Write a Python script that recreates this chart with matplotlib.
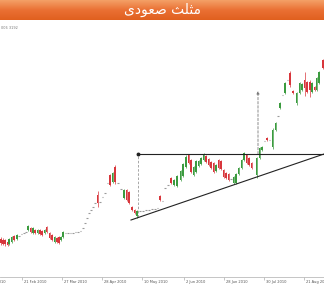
import matplotlib.pyplot as plt
import numpy as np
from matplotlib.colors import LinearSegmentedColormap

# title (Persian), pre-shaped glyphs in visual order
title = '\uFBFC\uFEA9\uFEEE\uFECC\uFEBB \uFE9A\uFEE0\uFE9C\uFEE3'
corner_text = '006 3192'

# bar position, open, high, low, close
t = [1, 3, 5, 7.5, 9, 11.5, 14, 17, 19, 21.5, 24, 26, 28, 30.5, 33, 35, 37.5, 40, 42, 44.5,
     46.5, 49.5, 52, 54.5, 57, 59, 61, 63, 65.5, 68, 70.5, 73, 75.5, 78, 80.5, 83, 85, 87,
     89, 91, 93, 95, 97.5, 100, 102.5, 105, 107.5, 110, 112.5, 115, 118, 121, 124, 126.5,
     129, 132, 134.5, 137, 140, 143, 146, 149, 152, 155, 157.5, 160, 162.5, 165, 168, 171,
     174, 177, 180.5, 183, 186, 188.5, 191, 193.5, 196, 198.5, 201, 203.5, 206, 208.5, 211,
     213.5, 216, 218.5, 221, 223.5, 226, 228.5, 231, 233.5, 236, 238.5, 241.5, 244, 246.5,
     249, 251.5, 256.5, 259.5, 262, 264.5, 267, 269.5, 272.5, 275.5, 278, 280, 282.5, 285,
     287.5, 290, 293, 296.5, 299.5, 302, 304.5, 307, 310, 312, 314.5, 316.5, 319, 323]
o = [61, 60, 60, 58, 56, 58, 64, 61, 64, 66, 67, 68, 70, 72, 67, 70, 67, 70, 69, 67,
     73, 67, 65, 58, 62, 63, 60, 63, 67, 67, 67, 67, 68, 68, 69, 72, 77, 82,
     87, 90, 93, 97, 105, 98, 103, 107, 117, 125, 118, 133, 117, 111, 102, 110,
     108, 93, 90, 84, 89, 89, 90, 90, 91, 91, 92, 104, 99, 112, 115, 122,
     115, 114, 120, 124, 133, 145, 140, 125, 128, 134, 136, 140, 144, 141, 138,
     137, 129, 140, 139, 130, 127, 126, 121, 117, 117, 126, 132, 140, 145,
     142, 137, 125, 142, 150, 159, 162, 160, 153, 170, 184, 192, 205, 207,
     220, 227, 209, 197, 207, 210, 220, 218, 218, 208, 213, 210, 217, 240]
h = [63, 62, 61, 59, 62, 64, 65, 66, 64, 66, 67, 68, 75, 73, 73, 71, 71, 71, 70, 71,
     74, 68, 66, 64, 63, 64, 64, 69, 67, 67, 67, 67, 68, 68, 69, 72, 77, 82,
     87, 90, 93, 97, 109, 98, 103, 107, 117, 126, 128, 135, 117, 111, 111, 111,
     109, 94, 91, 90, 89, 89, 90, 90, 91, 91, 92, 105, 99, 112, 115, 123,
     121, 125, 130, 137, 145, 146, 141, 134, 140, 140, 143, 147, 145, 142, 139,
     138, 136, 141, 140, 131, 128, 127, 122, 124, 127, 133, 141, 148, 146,
     143, 138, 143, 153, 154, 159, 163, 160, 172, 178, 184, 198, 205, 218,
     220, 229, 210, 208, 218, 217, 228, 219, 220, 218, 214, 223, 229, 241]
l = [55, 55, 54, 54, 55, 57, 59, 60, 64, 66, 67, 68, 69, 67, 66, 66, 66, 65, 64, 66,
     67, 61, 59, 57, 57, 56, 59, 62, 67, 67, 67, 67, 68, 68, 69, 72, 77, 82,
     87, 90, 93, 97, 93, 98, 103, 107, 117, 114, 117, 116, 117, 111, 101, 99,
     96, 89, 86, 82, 89, 89, 90, 90, 91, 91, 92, 99, 99, 112, 115, 116,
     114, 113, 119, 123, 132, 136, 127, 124, 127, 133, 135, 139, 137, 134, 131,
     127, 128, 131, 130, 122, 121, 119, 120, 116, 116, 125, 131, 139, 136,
     134, 131, 122, 141, 149, 159, 159, 160, 151, 169, 184, 191, 205, 206,
     220, 213, 206, 195, 206, 209, 204, 207, 203, 207, 209, 209, 216, 231]
c = [57, 56, 56, 55, 61, 63, 60, 65, 64, 66, 67, 68, 74, 68, 72, 67, 70, 66, 65, 70,
     68, 62, 60, 63, 58, 57, 63, 68, 67, 67, 67, 67, 68, 68, 69, 72, 77, 82,
     87, 90, 93, 97, 97, 98, 103, 107, 117, 115, 127, 118, 117, 111, 110, 100,
     97, 90, 87, 89, 89, 89, 90, 90, 91, 91, 92, 100, 99, 112, 115, 117,
     120, 124, 129, 136, 143, 137, 128, 133, 139, 139, 142, 146, 138, 135, 132,
     128, 135, 132, 131, 123, 122, 120, 121, 123, 126, 132, 140, 147, 137,
     135, 132, 142, 152, 153, 159, 160, 160, 170, 177, 184, 197, 205, 217,
     220, 215, 207, 207, 217, 216, 212, 208, 210, 217, 210, 222, 228, 232]

# triangle: flat resistance, rising support, projected target
resistance = 146
support_t = [131, 324]
support_p = [80, 146]
base_t, base_low = 138, 83
breakout_t = 258
target = resistance + (resistance - base_low)

tick_pos = [-18, 22, 62, 102, 142, 184, 224, 264, 304]
tick_labels = ['18 Jan 2010', '21 Feb 2010', '27 Mar 2010', '28 Apr 2010', '10 May 2010',
               '2 Jun 2010', '28 Jun 2010', '30 Jul 2010', '21 Aug 2010']

green, red, grey = '#3b9b3f', '#d8363c', '#9a9a9a'

fig = plt.figure(figsize=(3.24, 2.85), dpi=100)

# orange banner
bax = fig.add_axes([0, 1 - 20 / 285, 1, 20 / 285])
cmap = LinearSegmentedColormap.from_list('bn', ['#f4a066', '#ea7034', '#e0601f'])
bax.imshow(np.linspace(0, 1, 50).reshape(-1, 1), cmap=cmap, aspect='auto',
           extent=[0, 1, 0, 1], origin='upper')
bax.set_axis_off()
bax.text(0.5, 0.5, title, color='white', fontsize=10, ha='center', va='center',
         family='DejaVu Sans', transform=bax.transAxes)

fig.text(0.002, 1 - 28 / 285, corner_text, fontsize=2.5, color='#777777', va='center')

ax = fig.add_axes([0, 8 / 285, 1, 255 / 285])

t_a, o_a, h_a, l_a, c_a = map(np.array, (t, o, h, l, c))
flat = np.abs(o_a - c_a) < 1.5
up = (c_a > o_a) & ~flat
dn = (c_a < o_a) & ~flat

for m, col in ((up, green), (dn, red)):
    ax.vlines(t_a[m], l_a[m], h_a[m], color=col, lw=0.5, zorder=3)
    ax.bar(t_a[m], np.abs(c_a[m] - o_a[m]), bottom=np.minimum(o_a[m], c_a[m]),
           width=1.7, color=col, edgecolor='none', zorder=4)
ax.hlines(c_a[flat], t_a[flat] - 0.7, t_a[flat] + 0.7, color=grey, lw=0.8, zorder=3)

# pattern lines
ax.plot([base_t, 324], [resistance, resistance], color='#222222', lw=0.8, zorder=5)
ax.plot(support_t, support_p, color='#222222', lw=0.8, zorder=5)
ax.plot([base_t, base_t], [base_low, resistance], color='#999999', lw=0.6,
        ls=(0, (3, 2)), zorder=2)
ax.plot([base_t], [resistance], 'o', color='#222222', ms=1.8, zorder=6)
ax.annotate('', xy=(breakout_t, target), xytext=(breakout_t, resistance),
            arrowprops=dict(arrowstyle='-|>', color='#777777', lw=0.6, ls=(0, (3, 2)),
                            mutation_scale=4, shrinkA=0, shrinkB=0), zorder=2)

for s in ('top', 'left', 'right'):
    ax.spines[s].set_visible(False)
ax.spines['bottom'].set_color('#bbbbbb')
ax.spines['bottom'].set_linewidth(0.6)
ax.set_yticks([])
ax.set_xticks(tick_pos[1:])
ax.set_xticklabels([])
ax.tick_params(axis='x', length=2, width=0.4, color='#999999')

# date labels sit just right of their tick (first one runs off the left edge)
for x, lab in zip(tick_pos, tick_labels):
    ax.annotate(lab, xy=(x, 0), xycoords=('data', 'axes fraction'),
                xytext=(1.1, -2.4), textcoords='offset points',
                ha='left', va='top', fontsize=2.6, color='#555555',
                annotation_clip=False)

ax.set_xlim(0, 324)
ax.set_ylim(23, 278)

fig.savefig('out.png', dpi=100)
